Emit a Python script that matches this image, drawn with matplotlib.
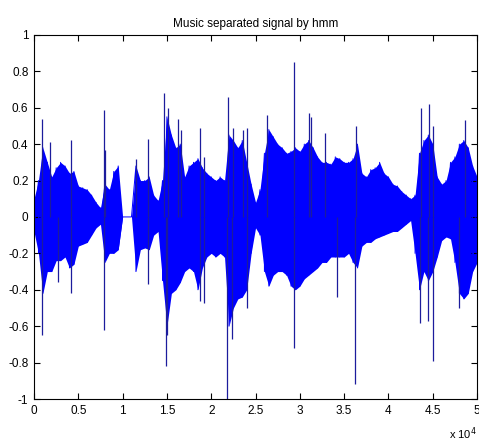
import numpy as np
import matplotlib
matplotlib.use("Agg")
import matplotlib.pyplot as plt

plt.rcParams['font.family'] = ['Liberation Sans', 'DejaVu Sans']

# envelope, one value every 500 samples
samples = np.arange(0, 50001, 500)
upper = [0.10, 0.20, 0.38, 0.30, 0.22, 0.27, 0.30, 0.28, 0.24, 0.25,
         0.17, 0.16, 0.15, 0.12, 0.08, 0.05, 0.18, 0.15, 0.25, 0.28,
         0.00, 0.00, 0.00, 0.28, 0.20, 0.20, 0.22, 0.12, 0.09, 0.20,
         0.55, 0.45, 0.38, 0.40, 0.22, 0.28, 0.30, 0.32, 0.27, 0.24,
         0.22, 0.20, 0.22, 0.20, 0.45, 0.42, 0.38, 0.42, 0.30, 0.18,
         0.08, 0.15, 0.35, 0.48, 0.44, 0.40, 0.38, 0.35, 0.36, 0.38,
         0.36, 0.40, 0.42, 0.38, 0.33, 0.30, 0.30, 0.29, 0.33, 0.32,
         0.30, 0.30, 0.32, 0.40, 0.24, 0.22, 0.26, 0.27, 0.30, 0.24,
         0.22, 0.18, 0.17, 0.14, 0.12, 0.10, 0.12, 0.35, 0.42, 0.45,
         0.40, 0.22, 0.18, 0.20, 0.30, 0.33, 0.40, 0.42, 0.38, 0.28,
         0.22]
lower = [-0.08, -0.20, -0.42, -0.30, -0.30, -0.24, -0.24, -0.22, -0.28, -0.26,
         -0.16, -0.15, -0.14, -0.10, -0.06, -0.04, -0.25, -0.20, -0.20, -0.18,
         0.00, 0.00, 0.00, -0.30, -0.18, -0.17, -0.18, -0.10, -0.08, -0.35,
         -0.60, -0.42, -0.40, -0.36, -0.30, -0.28, -0.30, -0.40, -0.28, -0.22,
         -0.20, -0.22, -0.20, -0.22, -0.60, -0.50, -0.45, -0.44, -0.40, -0.20,
         -0.06, -0.10, -0.30, -0.38, -0.32, -0.30, -0.30, -0.32, -0.38, -0.40,
         -0.38, -0.34, -0.32, -0.30, -0.28, -0.25, -0.25, -0.22, -0.22, -0.22,
         -0.22, -0.20, -0.25, -0.28, -0.16, -0.14, -0.14, -0.12, -0.11, -0.10,
         -0.09, -0.08, -0.08, -0.06, -0.04, -0.02, -0.20, -0.40, -0.30, -0.35,
         -0.30, -0.22, -0.13, -0.11, -0.12, -0.25, -0.42, -0.45, -0.42, -0.30,
         -0.25]

# isolated peaks
spike_up_x = [950, 1800, 4200, 7900, 8050, 11500, 12900, 14700, 15100, 16200,
              16600, 18750, 19200, 21900, 22500, 23600, 24000, 26300, 29300,
              31000, 31300, 32800, 36300, 43700, 44600, 45000, 48650]
spike_up_y = [0.54, 0.41, 0.42, 0.59, 0.37, 0.32, 0.43, 0.68, 0.60, 0.54,
              0.48, 0.49, 0.33, 0.66, 0.49, 0.48, 0.49, 0.56, 0.85,
              0.57, 0.55, 0.46, 0.50, 0.60, 0.62, 0.50, 0.53]
spike_dn_x = [950, 2700, 4200, 7900, 12900, 14900, 15000, 18750, 19200, 21800,
              22300, 24000, 29300, 34200, 36200, 43600, 44500, 45000, 48000]
spike_dn_y = [-0.65, -0.36, -0.42, -0.62, -0.37, -0.82, -0.65, -0.46, -0.47, -1.0,
              -0.67, -0.50, -0.72, -0.44, -0.92, -0.58, -0.57, -0.79, -0.50]

fig = plt.figure(figsize=(4.79, 4.43), dpi=100)
ax = fig.add_axes([0.071, 0.0993, 0.925, 0.822])

ax.fill_between(samples, lower, upper, color='#0000ff', lw=0)
# zigzag through the envelope points so the edges look like a waveform
zx = np.repeat(samples, 2)
zy = np.ravel(np.column_stack([upper, lower]))
ax.plot(zx, zy, color='#0000ff', lw=0.7)
ax.vlines(spike_up_x, 0, spike_up_y, color='#1c1c9c', lw=0.9)
ax.vlines(spike_dn_x, spike_dn_y, 0, color='#1c1c9c', lw=0.9)

ax.set_xlim(0, 50000)
ax.set_ylim(-1, 1)
ax.set_xticks(np.arange(0, 50001, 5000))
ax.set_xticklabels(['0', '0.5', '1', '1.5', '2', '2.5', '3', '3.5', '4', '4.5', '5'])
ax.set_yticks(np.arange(-1, 1.01, 0.2))
ax.set_yticklabels(['-1', '-0.8', '-0.6', '-0.4', '-0.2', '0', '0.2', '0.4', '0.6', '0.8', '1'])
ax.tick_params(direction='in', top=True, right=True, labelsize=8.5, length=4, width=0.8, pad=4)
for s in ax.spines.values():
    s.set_linewidth(0.8)

ax.set_title('Music separated signal by hmm', fontsize=8.5, pad=6)
ax.text(0.998, -0.072, r'x 10$^4$', transform=ax.transAxes, ha='right', va='top', fontsize=8)

fig.savefig('out.png', dpi=100)
